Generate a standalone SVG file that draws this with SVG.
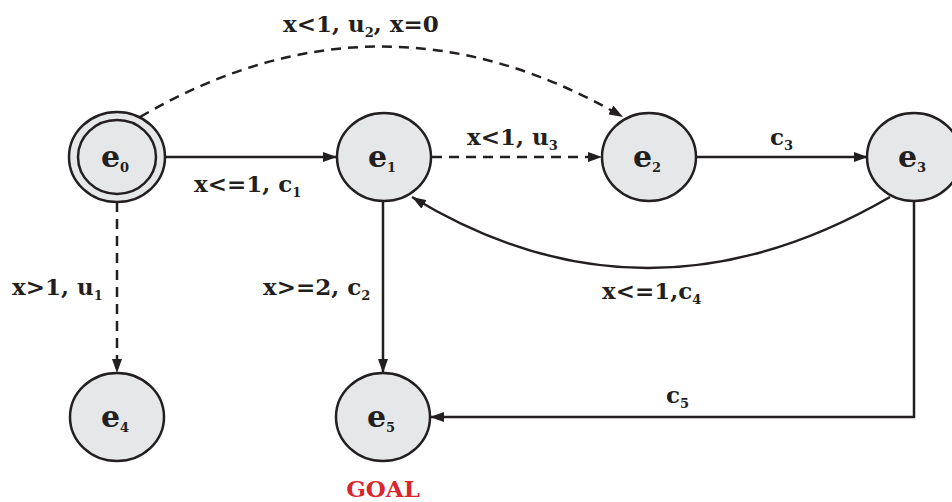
<svg xmlns="http://www.w3.org/2000/svg" width="952" height="502" viewBox="0 0 952 502">
<defs>
<marker id="arr" viewBox="0 0 14 10" refX="14" refY="5" markerWidth="14" markerHeight="10" markerUnits="userSpaceOnUse" orient="auto">
<path d="M0,0 L14,5 L0,10 Z" fill="#231f20"/>
</marker>
<style>
.node{fill:#e6e7e8;stroke:#231f20;stroke-width:2.5}
.edge{fill:none;stroke:#231f20;stroke-width:2.5;marker-end:url(#arr)}
.dash{stroke-dasharray:10 7}
.lbl{font-family:"DejaVu Serif",serif;font-weight:bold;font-size:23px;fill:#231f20}
.nl{font-family:"DejaVu Serif",serif;font-weight:bold;font-size:30px;fill:#231f20}
.sub{font-size:13px}
.goal{font-family:"DejaVu Serif",serif;font-weight:bold;font-size:23px;fill:#d7262e}
</style>
</defs>
<rect width="952" height="502" fill="#ffffff"/>
<g id="connectors">
<path class="edge" d="M165,157 L337,157"/>
<path class="edge dash" d="M432,157 L602,157"/>
<path class="edge" d="M697,157 L868,157"/>
<path class="edge dash" d="M140,117 Q381,-24 623,117"/>
<path class="edge" d="M383,201 L383,373"/>
<path class="edge dash" d="M117,202 L117,373"/>
<path class="edge" d="M890,197 Q645,339 412,197"/>
<path class="edge" d="M914,201 L914,417 L430,417"/>
</g>
<g id="edge-labels">
<text class="lbl" x="283" y="32">x&lt;1, u<tspan class="sub" dy="5">2</tspan><tspan dy="-5">, x=0</tspan></text>
<text class="lbl" x="194" y="192">x&lt;=1, c<tspan class="sub" dy="5">1</tspan></text>
<text class="lbl" x="467" y="145">x&lt;1, u<tspan class="sub" dy="5">3</tspan></text>
<text class="lbl" x="770" y="145">c<tspan class="sub" dy="5">3</tspan></text>
<text class="lbl" x="12" y="295">x&gt;1, u<tspan class="sub" dy="5">1</tspan></text>
<text class="lbl" x="263" y="295">x&gt;=2, c<tspan class="sub" dy="5">2</tspan></text>
<text class="lbl" x="602" y="299">x&lt;=1,c<tspan class="sub" dy="5">4</tspan></text>
<text class="lbl" x="666" y="403">c<tspan class="sub" dy="5">5</tspan></text>
</g>
<g id="e0">
<ellipse class="node" cx="117" cy="157" rx="48" ry="45"/>
<ellipse class="node" cx="117" cy="157" rx="39" ry="37"/>
<text class="nl" x="101" y="167">e<tspan class="sub" dy="5">0</tspan></text>
</g>
<g id="e1">
<ellipse class="node" cx="384" cy="157" rx="47" ry="44"/>
<text class="nl" x="368" y="167">e<tspan class="sub" dy="5">1</tspan></text>
</g>
<g id="e2">
<ellipse class="node" cx="649" cy="157" rx="47" ry="44"/>
<text class="nl" x="633" y="167">e<tspan class="sub" dy="5">2</tspan></text>
</g>
<g id="e3">
<ellipse class="node" cx="914" cy="157" rx="47" ry="44"/>
<text class="nl" x="898" y="167">e<tspan class="sub" dy="5">3</tspan></text>
</g>
<g id="e4">
<ellipse class="node" cx="117" cy="417" rx="47" ry="44"/>
<text class="nl" x="101" y="427">e<tspan class="sub" dy="5">4</tspan></text>
</g>
<g id="e5">
<ellipse class="node" cx="383" cy="417" rx="47" ry="44"/>
<text class="nl" x="367" y="427">e<tspan class="sub" dy="5">5</tspan></text>
<text class="goal" x="383" y="497" text-anchor="middle">GOAL</text>
</g>
</svg>
